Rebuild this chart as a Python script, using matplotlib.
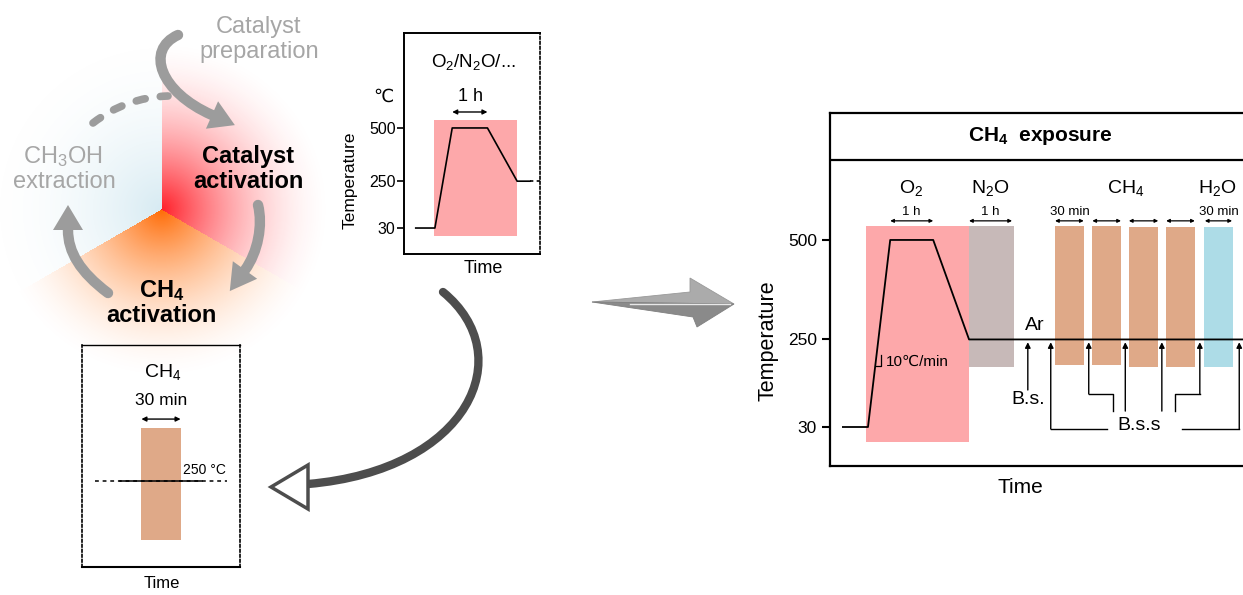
import numpy as np
import matplotlib.pyplot as plt
from matplotlib.path import Path
from matplotlib.patches import PathPatch, Polygon

plt.rcParams['font.family'] = ['Liberation Sans', 'DejaVu Sans']
plt.rcParams['mathtext.fontset'] = 'custom'
plt.rcParams['mathtext.rm'] = 'Liberation Sans'
plt.rcParams['mathtext.it'] = 'Liberation Sans'
plt.rcParams['mathtext.bf'] = 'Liberation Sans:bold'

W, H = 1243, 595

# ---- main protocol (time in min, temperature in degC)
main_t = [18, 53, 84, 144, 194, 590]
main_T = [30, 30, 500, 500, 250, 250]
main_ticks = [30, 250, 500]
o2_span = [50, 194]
n2o_span = [194, 257]
block_top = [535, 535, 535, 535, 533, 533, 533]
o2_bottom = -8
n2o_bottom = 180
ch4_start = [314, 366, 417, 469]
ch4_bottom = [185, 185, 182, 182]
h2o_start = 522
h2o_bottom = 182
pulse_len = 40
gas_names = ['O$_2$', 'N$_2$O', 'CH$_4$', 'H$_2$O']
gas_t = [113, 223, 412, 541]
dur_from = [84, 194, 314, 366, 417, 469, 523]
dur_to = [144, 254, 354, 406, 458, 509, 561]
dur_text = ['1 h', '1 h', '30 min', '', '', '', '30 min']
# baseline samplings (arrow position, lower end of its leader)
bs_t, bs_from = 276, 123
bss_t = [308, 361, 412, 463, 516, 571]
bss_from = [25, 113, 70, 70, 113, 25]

# ---- activation step (inset, top middle)
act_t = [19, 50, 78, 135, 183, 204]
act_T = [30, 30, 500, 500, 250, 250]
act_span = [49, 183]
act_block = [-8, 537]

# ---- CH4 step (inset, bottom left)
ch4_span = [47, 78]
ch4_block = [-27, 499]
ch4_T = 250

fig = plt.figure(figsize=(W / 100, H / 100), dpi=100)
bg = fig.add_axes([0, 0, 1, 1])
bg.set_xlim(0, W)
bg.set_ylim(H, 0)
bg.axis('off')


def px_axes(x0, y0, x1, y1):
    a = fig.add_axes([x0 / W, 1 - y1 / H, (x1 - x0) / W, (y1 - y0) / H])
    a.patch.set_alpha(0)
    return a


def bezier(ax, pts, color, lw, ls='-', z=2):
    codes = [Path.MOVETO, Path.CURVE4, Path.CURVE4, Path.CURVE4]
    ax.add_patch(PathPatch(Path(pts, codes), fc='none', ec=color, lw=lw,
                           ls=ls, capstyle='round', zorder=z))


def head(ax, p2, p3, length, half, fc, ec=None, lw=0, z=3):
    p2, p3 = np.array(p2, float), np.array(p3, float)
    d = (p3 - p2) / np.linalg.norm(p3 - p2)
    n = np.array([-d[1], d[0]])
    tri = [p3 + n * half, p3 + d * length, p3 - n * half]
    ax.add_patch(Polygon(tri, closed=True, fc=fc, ec=ec or fc, lw=lw,
                         joinstyle='miter', zorder=z))


# ---- cycle diagram, soft coloured sectors
gx, gy = np.meshgrid(np.arange(0, 340), np.arange(30, 390))
dx, dy = gx - 161.0, 209.0 - gy
r = np.hypot(dx, dy)
ang = np.degrees(np.arctan2(dy, dx)) % 360
fade = np.clip(1 - r / 172, 0, 1) ** 1.8
img = np.ones(gx.shape + (4,))
red = (ang >= 330) | (ang < 90)
blue = (ang >= 90) & (ang < 210)
orange = (ang >= 210) & (ang < 330)
img[red, :3] = [1.0, 0.12, 0.16]
img[orange, :3] = [1.0, 0.42, 0.02]
img[blue, :3] = [0.74, 0.87, 0.92]
img[..., 3] = fade
img[blue, 3] *= 0.6
bg.imshow(img, extent=(0, 340, 390, 30), interpolation='bilinear',
          aspect='auto', zorder=0)
bg.set_xlim(0, W)
bg.set_ylim(H, 0)

cyc = '#9C9C9C'
bezier(bg, [(178, 35), (145, 50), (160, 92), (212, 115)], cyc, 7.5)
head(bg, (160, 92), (212, 115), 25, 15, cyc)
bezier(bg, [(258, 205), (263, 225), (258, 252), (245, 270)], cyc, 7.5)
head(bg, (258, 252), (245, 270), 26, 15, cyc)
bezier(bg, [(108, 293), (80, 272), (68, 252), (68, 230)], cyc, 7.5)
head(bg, (68, 252), (68, 230), 25, 15, cyc)
bezier(bg, [(93, 123), (115, 106), (140, 97), (168, 96)], cyc, 5.5,
       ls=(0, (1.2, 2.0)))

grey_txt = '#A6A6A6'
bg.text(259, 33, 'Catalyst', ha='center', va='baseline', fontsize=17, color=grey_txt)
bg.text(259, 58, 'preparation', ha='center', va='baseline', fontsize=17, color=grey_txt)
bg.text(248, 163, 'Catalyst', ha='center', va='baseline', fontsize=17, fontweight='bold')
bg.text(248, 188, 'activation', ha='center', va='baseline', fontsize=17, fontweight='bold')
bg.text(63, 163, 'CH$_3$OH', ha='center', va='baseline', fontsize=17, color=grey_txt)
bg.text(64, 188, 'extraction', ha='center', va='baseline', fontsize=17, color=grey_txt)
bg.text(162, 297, r'CH$_\mathbf{4}$', ha='center', va='baseline', fontsize=17, fontweight='bold')
bg.text(161, 322, 'activation', ha='center', va='baseline', fontsize=17, fontweight='bold')

# ---- connecting arrows
dark = '#4D4D4D'
bezier(bg, [(443, 292), (520, 355), (470, 470), (308, 484)], dark, 6)
bg.add_patch(Polygon([(308, 465), (271, 487), (308, 509)], closed=True,
                     fc='white', ec=dark, lw=2.5, zorder=3))
bg.add_patch(Polygon([(592, 302), (690, 292), (690, 278), (734, 304)],
                     closed=True, fc='#ABABAB', ec='#999999', lw=0.6, zorder=2))
bg.add_patch(Polygon([(592, 302), (734, 304), (697, 327), (693, 317)],
                     closed=True, fc='#8A8A8A', ec='#808080', lw=0.6, zorder=2))
bg.plot([630, 730], [304, 304], color='#E8E8E8', lw=1, zorder=3)

# ---- activation inset
ax1 = px_axes(404, 33, 540, 254)
ax1.set_xlim(0, 220)
ax1.set_ylim(-92, 946)
ax1.bar(act_span[0], act_block[1] - act_block[0], width=act_span[1] - act_span[0],
        bottom=act_block[0], align='edge', color='#FDA8AA', zorder=1)
ax1.plot(act_t, act_T, color='k', lw=1.2, zorder=3)
ax1.plot([act_t[-1], 220], [act_T[-1]] * 2, color='k', lw=1.2, ls=(0, (2, 2)), zorder=3)
ax1.annotate('', xy=(act_t[3], 575), xytext=(act_t[2], 575),
             arrowprops=dict(arrowstyle='<|-|>', lw=1, color='k',
                             mutation_scale=7, shrinkA=0, shrinkB=0))
ax1.text(107, 650, '1 h', ha='center', va='center', fontsize=13)
ax1.text(112, 810, 'O$_2$/N$_2$O/...', ha='center', va='center', fontsize=13.5)
ax1.text(-34, 646, '℃', ha='center', va='center', fontsize=13, clip_on=False)
ax1.set_yticks([30, 250, 500])
ax1.set_xticks([])
ax1.tick_params(axis='y', length=5, width=1.2, pad=1, labelsize=11.5)
for s in ['left', 'top', 'bottom']:
    ax1.spines[s].set_linewidth(1.4)
ax1.spines['right'].set_linewidth(1.2)
ax1.spines['right'].set_linestyle((0, (1.5, 1.5)))
ax1.text(-87, 255, 'Temperature', rotation=90, ha='center', va='center', fontsize=12.5)
ax1.text(128, -158, 'Time', ha='center', va='center', fontsize=13)

# ---- CH4 inset
ax2 = px_axes(82, 345, 240, 567)
ax2.set_xlim(0, 125)
ax2.set_ylim(-154, 889)
ax2.bar(ch4_span[0], ch4_block[1] - ch4_block[0], width=ch4_span[1] - ch4_span[0],
        bottom=ch4_block[0], align='edge', color='#DFA988', zorder=1)
ax2.plot([10, 115], [ch4_T] * 2, color='k', lw=1.1, ls=(0, (2.5, 2.5)), zorder=2)
ax2.plot([30, 95], [ch4_T] * 2, color='k', lw=1.1, zorder=3)
ax2.annotate('', xy=(ch4_span[1], 541), xytext=(ch4_span[0], 541),
             arrowprops=dict(arrowstyle='<|-|>', lw=1, color='k',
                             mutation_scale=7, shrinkA=0, shrinkB=0))
ax2.text(62.5, 626, '30 min', ha='center', va='center', fontsize=12.5)
ax2.text(64, 762, 'CH$_4$', ha='center', va='center', fontsize=14)
ax2.text(80, 302, '250 °C', ha='left', va='center', fontsize=10)
ax2.set_xticks([])
ax2.set_yticks([])
ax2.spines['top'].set_linewidth(1)
ax2.spines['bottom'].set_linewidth(1.5)
for s in ['left', 'right']:
    ax2.spines[s].set_linewidth(1.2)
    ax2.spines[s].set_linestyle((0, (1.5, 1.5)))
ax2.text(63, -233, 'Time', ha='center', va='center', fontsize=12, clip_on=False)

# ---- main protocol chart
ax = px_axes(830, 113, 1250, 466)
ax.set_xlim(0, 586)
ax.set_ylim(-68, 819)
ax.spines['right'].set_visible(False)
for s in ['left', 'top', 'bottom']:
    ax.spines[s].set_linewidth(1.6)
ax.axhline(701, color='k', lw=1.6)
ax.text(294, 761, r'CH$_\mathbf{4}$  exposure', ha='center', va='center',
        fontsize=15, fontweight='bold')

ax.bar(o2_span[0], block_top[0] - o2_bottom, width=o2_span[1] - o2_span[0],
       bottom=o2_bottom, align='edge', color='#FDA8AA', zorder=1)
ax.bar(n2o_span[0], block_top[1] - n2o_bottom, width=n2o_span[1] - n2o_span[0],
       bottom=n2o_bottom, align='edge', color='#C7B9B8', zorder=1)
for i, (t0, b) in enumerate(zip(ch4_start, ch4_bottom)):
    ax.bar(t0, block_top[2 + i] - b, width=pulse_len, bottom=b,
           align='edge', color='#DFA988', zorder=1)
ax.bar(h2o_start, block_top[-1] - h2o_bottom, width=pulse_len, bottom=h2o_bottom,
       align='edge', color='#ADDCE7', zorder=1)
ax.plot(main_t, main_T, color='k', lw=1.3, zorder=3, clip_on=True)

for name, t in zip(gas_names, gas_t):
    ax.text(t, 630, name, ha='center', va='center', fontsize=14)
for a, b, s in zip(dur_from, dur_to, dur_text):
    ax.annotate('', xy=(b, 548), xytext=(a, 548),
                arrowprops=dict(arrowstyle='<|-|>', lw=0.9, color='k',
                                mutation_scale=5, shrinkA=0, shrinkB=0))
    if s:
        ax.text((a + b) / 2, 570, s, ha='center', va='center', fontsize=9.5)

# slope marker on the heating ramp
ax.plot([64, 71, 71], [183, 183, 211], color='k', lw=0.9, zorder=3)
ax.text(78, 193, '10℃/min', ha='left', va='center', fontsize=11)
ax.text(285, 286, 'Ar', ha='center', va='center', fontsize=14)

arrow_kw = dict(arrowstyle='-|>', lw=1, color='k', mutation_scale=8,
                shrinkA=0, shrinkB=0)
ax.annotate('', xy=(bs_t, 243), xytext=(bs_t, bs_from), arrowprops=arrow_kw)
ax.text(bs_t, 98, 'B.s.', ha='center', va='center', fontsize=14)
for t, y0 in zip(bss_t, bss_from):
    ax.annotate('', xy=(t, 243), xytext=(t, y0), arrowprops=arrow_kw)
ax.plot([bss_t[0], 386], [25, 25], color='k', lw=1)
ax.plot([491, bss_t[-1]], [25, 25], color='k', lw=1)
ax.plot([bss_t[1], 395, 395], [113, 113, 70], color='k', lw=1)
ax.plot([481, 481, bss_t[4]], [70, 113, 113], color='k', lw=1)
ax.text(432, 33, 'B.s.s', ha='center', va='center', fontsize=14)

ax.set_yticks(main_ticks)
ax.set_xticks([])
ax.tick_params(axis='y', length=6, width=1.5, pad=3.5, labelsize=12.5)
ax.text(-86, 246, 'Temperature', rotation=90, ha='center', va='center',
        fontsize=15.5, clip_on=False)
ax.text(265, -121, 'Time', ha='center', va='center', fontsize=15, clip_on=False)

fig.savefig('out.png', dpi=100)
